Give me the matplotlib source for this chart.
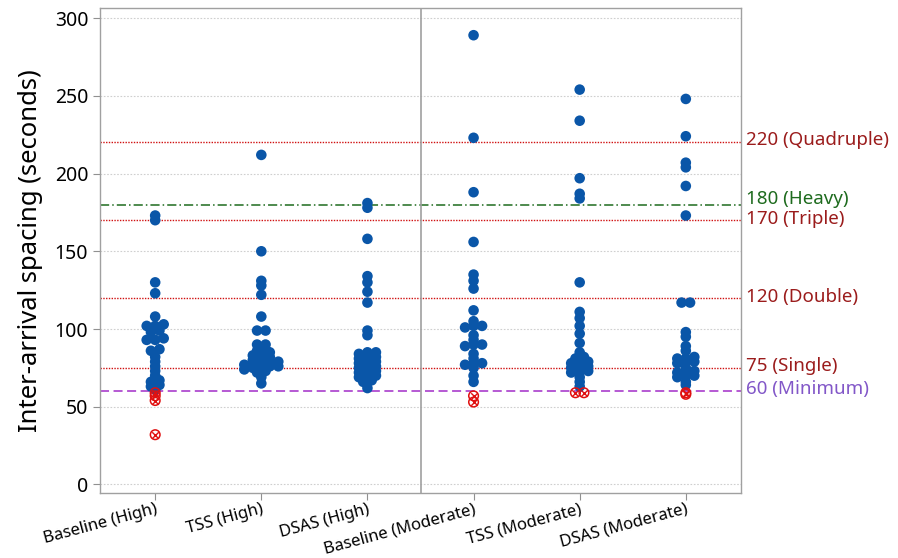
import numpy as np
import matplotlib
matplotlib.use("Agg")
import matplotlib.pyplot as plt
from matplotlib.transforms import blended_transform_factory

plt.rcParams['font.family'] = ['Noto Sans', 'DejaVu Sans']

categories = ["Baseline (High)", "TSS (High)", "DSAS (High)",
              "Baseline (Moderate)", "TSS (Moderate)", "DSAS (Moderate)"]

baseline_high = [173, 170, 130, 123, 108, 103, 102, 102, 99, 98, 94, 93, 93, 87, 86,
                 82, 79, 76, 73, 70, 67, 66, 64, 63, 61, 59, 57, 54, 32]
tss_high = [212, 150, 131, 128, 122, 108, 99, 99, 90, 90, 87, 86, 85, 84, 83, 82, 81, 80,
            79, 78, 78, 77, 77, 76, 76, 75, 75, 74, 73, 72, 69, 65]
dsas_high = [181, 178, 158, 134, 130, 124, 117, 99, 96, 85, 85, 84, 82, 82, 81, 79, 78, 78,
             76, 75, 75, 73, 73, 72, 70, 70, 69, 67, 66, 62]
baseline_mod = [289, 223, 188, 156, 135, 131, 126, 112, 105, 102, 102, 101, 96, 93, 90, 90,
                89, 84, 81, 78, 78, 77, 75, 70, 66, 57, 53]
tss_mod = [254, 234, 197, 187, 184, 130, 111, 107, 102, 97, 91, 85, 82, 81, 79, 78, 78, 76,
           76, 75, 73, 73, 72, 69, 66, 63, 59, 59]
dsas_mod = [248, 224, 207, 204, 192, 173, 117, 117, 98, 95, 89, 86, 82, 81, 81, 79, 79, 78,
            75, 73, 73, 72, 70, 70, 69, 66, 64, 59, 58]

series = [baseline_high, tss_high, dsas_high, baseline_mod, tss_mod, dsas_mod]

min_spacing = 60
ref_values = [220, 180, 170, 120, 75, 60]
ref_labels = ["220 (Quadruple)", "180 (Heavy)", "170 (Triple)", "120 (Double)",
              "75 (Single)", "60 (Minimum)"]
ref_label_pos = [221.5, 183.5, 171.0, 120.5, 76, 61.5]

red_line = "#d01010"
red_text = "#9b1c1c"
green = "#1e6b1e"
purple_line = "#b04cd0"
purple_text = "#8257c8"
ref_styles = [
    dict(color=red_line, ls=(0, (1, 1)), lw=1.0),
    dict(color=green, ls=(0, (6, 2, 1, 2)), lw=1.1),
    dict(color=red_line, ls=(0, (1, 1)), lw=1.0),
    dict(color=red_line, ls=(0, (1, 1)), lw=1.0),
    dict(color=red_line, ls=(0, (1, 1)), lw=1.0),
    dict(color=purple_line, ls=(0, (5, 2.5)), lw=1.3),
]
ref_text_colors = [red_text, green, red_text, red_text, red_text, purple_text]

fig = plt.figure(figsize=(8.98, 5.58), dpi=100)
ax = fig.add_axes([100 / 898, 1 - 493 / 558, 641 / 898, 485 / 558])
ax.set_xlim(-0.52, 5.52)
ax.set_ylim(-5.5, 306.5)

ax.set_yticks(np.arange(0, 301, 50))
for v in np.arange(0, 301, 50):
    ax.axhline(v, color="#cfcfcf", lw=0.8, ls=(0, (1.5, 1.5)), zorder=0)

for v, st in zip(ref_values, ref_styles):
    ax.axhline(v, zorder=1, **st)

ax.axvline(2.5, color="#a0a0a0", lw=1.2, zorder=1)

trans = blended_transform_factory(ax.transAxes, ax.transData)
for lab, yp, c in zip(ref_labels, ref_label_pos, ref_text_colors):
    ax.text(1.008, yp, lab, transform=trans, color=c, fontsize=13.5,
            ha="left", va="center", clip_on=False)

BIN = 3.0      # data units per row of the dot plot
STEP = 8.5     # horizontal spacing of dots in one row, pixels


def dot_offsets(vals, x0):
    """Symmetric dot-plot layout: values in the same bin sit side by side."""
    tr = ax.transData
    xc = tr.transform((x0, 0))[0]
    vals = np.asarray(vals, dtype=float)
    bins = np.round(vals / BIN).astype(int)
    xs = np.zeros(len(vals))
    for b in np.unique(bins):
        idx = np.where(bins == b)[0]
        idx = idx[np.argsort(vals[idx])]
        n = len(idx)
        for k, j in enumerate(idx):
            px = xc + (k - (n - 1) / 2.0) * STEP
            xs[j] = tr.inverted().transform((px, 0))[0]
    return xs


for i, vals in enumerate(series):
    vals = np.array(vals, dtype=float)
    ok = vals >= min_spacing
    bad = ~ok
    x_ok = dot_offsets(vals[ok], i)
    ax.scatter(x_ok, vals[ok], s=58, color="#0a56a8", edgecolors="none", zorder=3)
    if bad.any():
        x_bad = dot_offsets(vals[bad], i)
        ax.scatter(x_bad, vals[bad], s=48, facecolors="none", edgecolors="#e01010",
                   linewidths=1.1, zorder=4)
        ax.scatter(x_bad, vals[bad], s=22, marker="x", color="#e01010",
                   linewidths=1.0, zorder=4)

ax.set_xticks(range(len(categories)))
ax.set_xticklabels(categories, rotation=15, ha="right", rotation_mode="anchor",
                   fontsize=12)
ax.tick_params(axis="y", labelsize=14, color="#909090", length=5, direction="out")
ax.tick_params(axis="x", color="#909090", length=5, direction="out", pad=1)
for s in ax.spines.values():
    s.set_color("#a0a0a0")
    s.set_linewidth(1.0)

ax.set_ylabel("Inter-arrival spacing (seconds)", fontsize=18.5, labelpad=8)

fig.savefig("out.png", dpi=100)
